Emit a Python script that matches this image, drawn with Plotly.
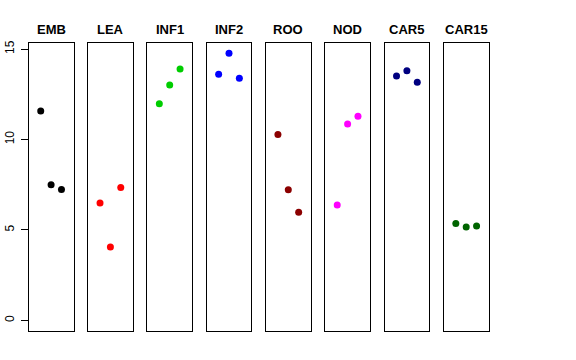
import plotly.graph_objects as go

panels = ["EMB", "LEA", "INF1", "INF2", "ROO", "NOD", "CAR5", "CAR15"]
colors = ["#000000", "#FF0000", "#00CD00", "#0000FF", "#8B0000", "#FF00FF", "#000080", "#006400"]
positions = [1, 2, 3]
EMB = [11.58, 7.50, 7.24]
LEA = [6.49, 4.06, 7.35]
INF1 = [11.98, 13.01, 13.90]
INF2 = [13.60, 14.76, 13.38]
ROO = [10.27, 7.22, 5.97]
NOD = [6.38, 10.85, 11.28]
CAR5 = [13.51, 13.80, 13.16]
CAR15 = [5.36, 5.16, 5.22]
values = [EMB, LEA, INF1, INF2, ROO, NOD, CAR5, CAR15]
y_ticks = [0, 5, 10, 15]

W, H = 576, 360
left0 = 28.7
pw = 44.8
step = 59.3
ytop, ybot = 42.7, 331.0
title_y = 29.5
yrange = [-0.59, 15.35]

fig = go.Figure()
layout = dict(
    width=W, height=H, margin=dict(l=0, r=0, t=0, b=0, autoexpand=False),
    paper_bgcolor="white", plot_bgcolor="white", showlegend=False,
    font=dict(family="Liberation Sans, Arial, sans-serif", color="black"),
)
annotations = []
for i, (name, col, vals) in enumerate(zip(panels, colors, values)):
    k = "" if i == 0 else str(i + 1)
    x0 = left0 + i * step
    x1 = x0 + pw
    fig.add_trace(go.Scatter(
        x=positions, y=vals, mode="markers",
        marker=dict(color=col, size=7, line=dict(width=0)),
        xaxis="x" + k, yaxis="y" + k, hoverinfo="skip"))
    layout["xaxis" + k] = dict(
        domain=[x0 / W, x1 / W], range=[-0.16, 4.16], anchor="y" + k, automargin=False,
        showgrid=False, zeroline=False, showticklabels=False, ticks="",
        showline=True, mirror=True, linecolor="black", linewidth=1, fixedrange=True)
    ya = dict(
        domain=[1 - ybot / H, 1 - ytop / H], range=yrange, anchor="x" + k, automargin=False,
        showgrid=False, zeroline=False,
        showline=True, mirror=True, linecolor="black", linewidth=1, fixedrange=True)
    if i == 0:
        ya.update(tickvals=y_ticks, ticktext=[str(t) for t in y_ticks], ticks="outside",
                  ticklen=7, tickcolor="black", tickangle=-90, ticklabelstandoff=2,
                  tickfont=dict(size=12, color="black"))
    else:
        ya.update(showticklabels=False, ticks="")
    layout["yaxis" + k] = ya
    annotations.append(dict(
        text="<b>%s</b>" % name, x=(x0 + x1) / 2 / W, y=1 - title_y / H,
        xref="paper", yref="paper", xanchor="center", yanchor="middle",
        showarrow=False, font=dict(size=13, color="black")))
layout["annotations"] = annotations
fig.update_layout(**layout)
fig.write_html("out.html", config={"displayModeBar": False, "staticPlot": True},
               post_script="document.body.style.margin='0';document.body.style.overflow='hidden';")
